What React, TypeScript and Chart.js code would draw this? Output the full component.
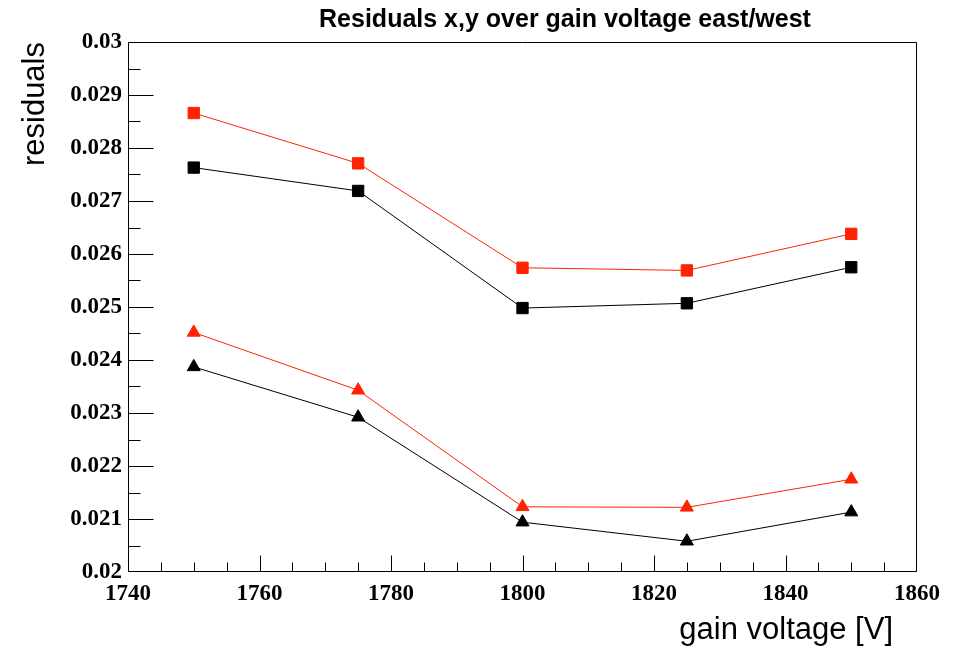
import React, { useEffect, useRef } from "react";
import { Chart, registerables } from "chart.js";

Chart.register(...registerables);

// Gain voltage settings [V]
const gainVoltage = [1750, 1775, 1800, 1825, 1850];

// Residuals per voltage (squares: x, triangles: y; red: east, black: west)
const residualXEast = [0.02866, 0.02771, 0.02574, 0.02569, 0.02638];
const residualXWest = [0.02763, 0.02719, 0.02498, 0.02507, 0.02575];
const residualYEast = [0.02452, 0.02343, 0.02123, 0.02122, 0.02175];
const residualYWest = [0.02387, 0.02292, 0.02094, 0.02058, 0.02113];

// Axis tick labels
const xTickValues = [1740, 1760, 1780, 1800, 1820, 1840, 1860];
const yTickValues = [0.02, 0.021, 0.022, 0.023, 0.024, 0.025, 0.026, 0.027, 0.028, 0.029, 0.03];

const chartTitle = "Residuals x,y over gain voltage east/west";
const xTitle = "gain voltage [V]";
const yTitle = "residuals";

const RED = "#ff2200";
const BLACK = "#000000";

const toPoints = (ys: number[]) => gainVoltage.map((x, i) => ({ x, y: ys[i] }));

// Frame, inward tick marks and titles in the style of a physics analysis plot
const framePlugin = {
  id: "framePlugin",
  beforeDatasetsDraw(chart: any) {
    const { ctx, chartArea: a, scales } = chart;
    const xs = scales.x;
    const ys = scales.y;
    const L = Math.round(a.left) + 0.5;
    const R = Math.round(a.right) - 0.5;
    const T = Math.round(a.top) + 0.5;
    const B = Math.round(a.bottom) - 0.5;
    const px = (v: number) => Math.min(R, Math.max(L, Math.round(xs.getPixelForValue(v)) + 0.5));
    const py = (v: number) => Math.min(B, Math.max(T, Math.round(ys.getPixelForValue(v)) + 0.5));
    ctx.save();
    ctx.strokeStyle = "#000";
    ctx.lineWidth = 1;
    ctx.beginPath();
    for (let i = 0; i < xTickValues.length; i++) {
      const v = xTickValues[i];
      const p = px(v);
      ctx.moveTo(p, B);
      ctx.lineTo(p, B - 16);
      if (i < xTickValues.length - 1) {
        const step = (xTickValues[i + 1] - v) / 4;
        for (let k = 1; k < 4; k++) {
          const q = px(v + k * step);
          ctx.moveTo(q, B);
          ctx.lineTo(q, B - 9);
        }
      }
    }
    for (let i = 0; i < yTickValues.length; i++) {
      const v = yTickValues[i];
      const p = py(v);
      ctx.moveTo(L, p);
      ctx.lineTo(L + 25, p);
      if (i < yTickValues.length - 1) {
        const q = py((v + yTickValues[i + 1]) / 2);
        ctx.moveTo(L, q);
        ctx.lineTo(L + 12, q);
      }
    }
    // frame
    ctx.moveTo(L, T);
    ctx.lineTo(R, T);
    ctx.lineTo(R, B);
    ctx.lineTo(L, B);
    ctx.closePath();
    ctx.stroke();
    ctx.restore();
  },
  afterDraw(chart: any) {
    const { ctx, chartArea: a } = chart;
    ctx.save();
    ctx.fillStyle = "#000";
    ctx.font = 'bold 25px "Liberation Sans", Arial, sans-serif';
    ctx.textAlign = "center";
    ctx.textBaseline = "alphabetic";
    ctx.fillText(chartTitle, 565, 27);

    ctx.font = '31px "Liberation Sans", Arial, sans-serif';
    ctx.textAlign = "right";
    ctx.fillText(xTitle, a.right - 24, 639);

    ctx.translate(44, a.top);
    ctx.rotate(-Math.PI / 2);
    ctx.textAlign = "right";
    ctx.fillText(yTitle, 0, 0);
    ctx.restore();
  },
};

export default function App() {
  const canvasRef = useRef<HTMLCanvasElement | null>(null);

  useEffect(() => {
    if (!canvasRef.current) return;
    const series = [
      { data: residualXEast, color: RED, style: "rect", radius: 8 },
      { data: residualXWest, color: BLACK, style: "rect", radius: 8 },
      { data: residualYEast, color: RED, style: "triangle", radius: 7.5 },
      { data: residualYWest, color: BLACK, style: "triangle", radius: 7.5 },
    ];
    const tickFont = { family: '"Liberation Serif", "Times New Roman", serif', weight: "bold" as const, size: 23 };
    const chart = new Chart(canvasRef.current, {
      type: "line",
      data: {
        datasets: series.map((s) => ({
          data: toPoints(s.data),
          borderColor: s.color,
          backgroundColor: s.color,
          borderWidth: 1,
          pointStyle: s.style as any,
          pointRadius: s.radius,
          pointBorderWidth: 1,
          pointBorderColor: s.color,
          pointBackgroundColor: s.color,
          tension: 0,
          fill: false,
        })),
      },
      options: {
        animation: false,
        responsive: false,
        devicePixelRatio: 1,
        layout: { padding: { top: 42, right: 42, left: 0, bottom: 0 } },
        plugins: { legend: { display: false }, tooltip: { enabled: false }, title: { display: false } },
        scales: {
          x: {
            type: "linear",
            min: 1740,
            max: 1860,
            grid: { display: false, drawTicks: false },
            border: { display: false },
            afterBuildTicks: (scale: any) => {
              scale.ticks = xTickValues.map((value) => ({ value }));
            },
            ticks: {
              autoSkip: false,
              maxRotation: 0,
              padding: 8,
              color: "#000",
              font: tickFont,
              callback: (value: any) => String(value),
            },
            afterFit: (scale: any) => {
              scale.height = 76;
              scale.paddingLeft = 0;
              scale.paddingRight = 0;
            },
          },
          y: {
            type: "linear",
            min: 0.02,
            max: 0.03,
            grid: { display: false, drawTicks: false },
            border: { display: false },
            afterBuildTicks: (scale: any) => {
              scale.ticks = yTickValues.map((value) => ({ value }));
            },
            ticks: {
              autoSkip: false,
              padding: 6,
              color: "#000",
              font: tickFont,
              callback: (value: any) => String(value),
            },
            afterFit: (scale: any) => {
              scale.width = 128;
              scale.paddingTop = 0;
              scale.paddingBottom = 0;
            },
          },
        },
      },
      plugins: [framePlugin],
    });
    return () => chart.destroy();
  }, []);

  return (
    <div style={{ position: "fixed", left: 0, top: 0, width: 959, height: 648, background: "#fff" }}>
      <canvas ref={canvasRef} width={959} height={648} style={{ display: "block" }} />
    </div>
  );
}
